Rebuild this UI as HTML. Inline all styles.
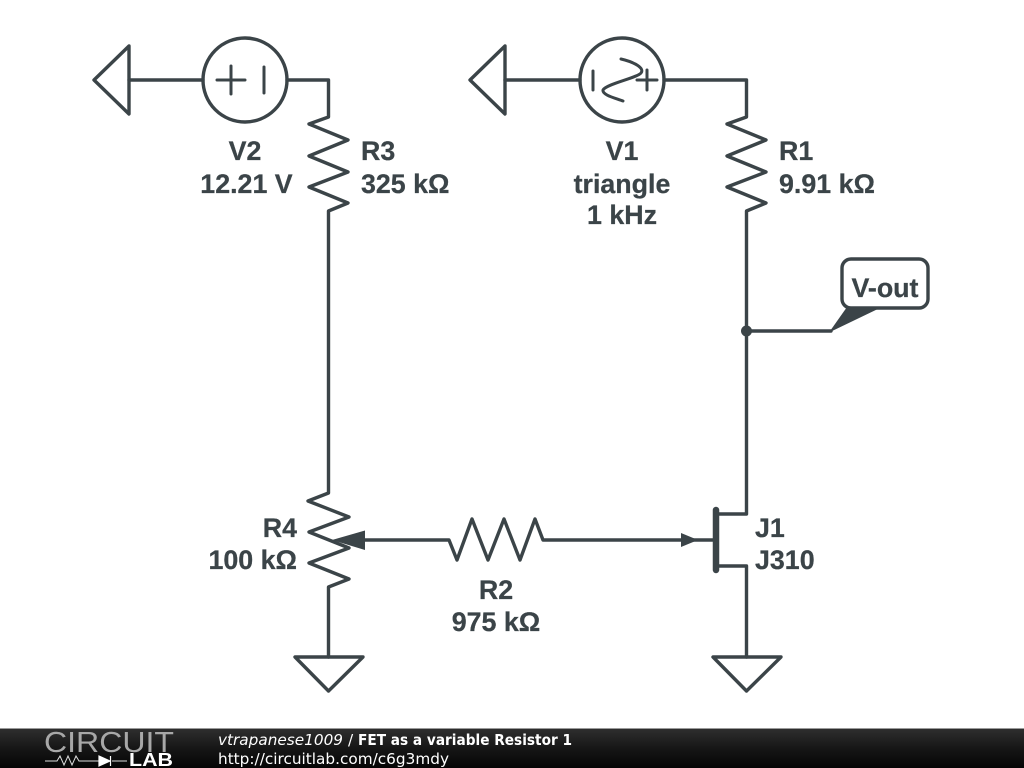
<!DOCTYPE html>
<html><head><meta charset="utf-8"><style>
html,body{margin:0;padding:0;background:#fff;width:1024px;height:768px;overflow:hidden}
svg{display:block}
.t{font-family:"Liberation Sans",sans-serif;font-weight:bold;font-size:26.8px;fill:#3b4448;stroke:#3b4448;stroke-width:0.25}
.f{font-family:"DejaVu Sans",sans-serif;font-size:15.3px;fill:#fff}
</style></head><body>
<svg width="1024" height="768" viewBox="0 0 1024 768" xmlns="http://www.w3.org/2000/svg">
<defs><linearGradient id="g" x1="0" y1="0" x2="0" y2="1"><stop offset="0" stop-color="#2e2e2e"/><stop offset="0.5" stop-color="#161616"/><stop offset="1" stop-color="#050505"/></linearGradient></defs>
<g fill="none" stroke="#3b4448" stroke-width="3.4" stroke-linejoin="round" stroke-linecap="round">
<!-- left grounds -->
<path d="M129 46L94 80L129 114Z"/>
<path d="M505 46L470 80L505 114Z"/>
<!-- V2 -->
<path d="M129 80H203"/>
<circle cx="245" cy="80" r="42"/>
<path d="M217 80H245M231 66V94M264 67V93" stroke-width="3"/>
<path d="M287 80H328.500V117L309 124L348 140L309 156L348 172L309 187L348 203L328.500 211V493L308 501L349 517L309 532L349 548L309 563L349 579L328.500 587V657"/>
<path d="M295 657H363L328.500 691Z"/>
<!-- V1 -->
<path d="M505 80H580"/>
<circle cx="622" cy="80" r="42"/>
<path d="M593 71V90M637 80H657M647 70V90" stroke-width="3"/>
<path d="M621 59C634 62 645 68 641 73C637 78 606 84 603 90C602 95 615 98 623 101" stroke-width="3"/>
<path d="M664 80H746.500V117L727 124L766 140L727 156L766 172L727 187L766 203L746.500 211V514H716"/>
<!-- V-out -->
<path d="M746.500 331H831"/>
<rect x="842" y="259" width="86" height="49" rx="9"/>
<!-- R2 wire -->
<path d="M365 540H449L457 560L472 519L488 560L504 519L520 560L535 519L543 540H714"/>
<!-- source -->
<path d="M716 566H746.500V657"/>
<path d="M713 657H781L746.500 691Z"/>
</g>
<!-- fills -->
<circle cx="746.500" cy="331" r="5.500" fill="#3b4448"/>
<path d="M829 332.500L847 307H882Z" fill="#3b4448"/>
<path d="M332 540L365 530.500L365 550Z" fill="#3b4448"/>
<path d="M698 540L681 533L681 547Z" fill="#3b4448"/>
<path d="M716 510V570" stroke="#3b4448" stroke-width="6.500" stroke-linecap="round" fill="none"/>
<!-- labels -->
<text class="t" x="245" y="160" text-anchor="middle">V2</text>
<text class="t" x="246.500" y="193" text-anchor="middle">12.21 V</text>
<text class="t" x="361" y="160">R3</text>
<text class="t" x="361" y="193">325 kΩ</text>
<text class="t" x="622" y="160" text-anchor="middle">V1</text>
<text class="t" x="622" y="193" text-anchor="middle">triangle</text>
<text class="t" x="622" y="224" text-anchor="middle">1 kHz</text>
<text class="t" x="779" y="160">R1</text>
<text class="t" x="779" y="193">9.91 kΩ</text>
<text class="t" x="885" y="297" text-anchor="middle">V-out</text>
<text class="t" x="297" y="537" text-anchor="end">R4</text>
<text class="t" x="297" y="569" text-anchor="end">100 kΩ</text>
<text class="t" x="496" y="599" text-anchor="middle">R2</text>
<text class="t" x="496" y="631" text-anchor="middle">975 kΩ</text>
<text class="t" x="755" y="537">J1</text>
<text class="t" x="755" y="569">J310</text>
<!-- footer -->
<rect x="0" y="729" width="1024" height="39" fill="url(#g)"/>
<rect x="0" y="728" width="1024" height="1" fill="#9a9a9a"/>
<text x="44" y="752" font-family="'Liberation Sans',sans-serif" font-size="29" fill="#a8a8a8" textLength="130" lengthAdjust="spacingAndGlyphs">CIRCUIT</text>
<path d="M45 761H57L60 756L64 765L68 756L72 765L76 756L79 761H99M112 761H127" fill="none" stroke="#ddd" stroke-width="1"/>
<path d="M99 756L110 761L99 766ZM110.500 756V766" fill="#fff" stroke="#fff" stroke-width="1.200"/>
<text x="129" y="766" font-family="'Liberation Sans',sans-serif" font-size="18" font-weight="bold" fill="#fff" textLength="44" lengthAdjust="spacingAndGlyphs">LAB</text>
<text class="f" x="218" y="745" font-style="italic" textLength="125" lengthAdjust="spacingAndGlyphs">vtrapanese1009</text>
<text class="f" x="348" y="745">/</text>
<text class="f" x="358" y="745" font-weight="bold" textLength="214" lengthAdjust="spacingAndGlyphs">FET as a variable Resistor 1</text>
<text class="f" x="218" y="764" textLength="231" lengthAdjust="spacingAndGlyphs">http://circuitlab.com/c6g3mdy</text>
</svg>
</body></html>
